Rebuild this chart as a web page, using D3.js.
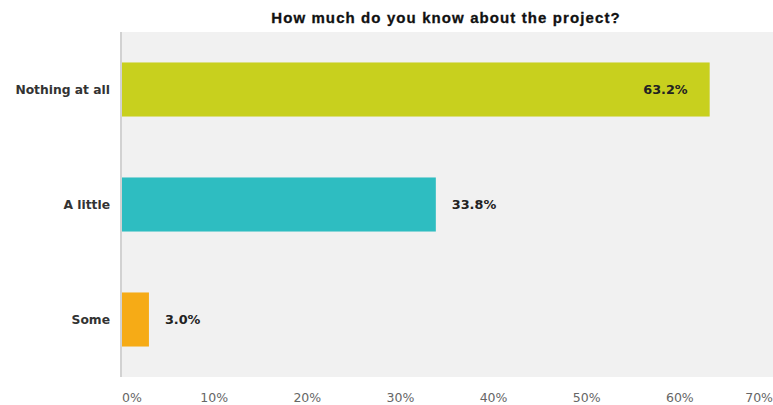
<!DOCTYPE html>
<html>
<head>
<meta charset="utf-8">
<script src="https://cdn.jsdelivr.net/npm/d3@7"></script>
<style>
  html, body { margin: 0; padding: 0; background: #ffffff; }
  svg { display: block; }
</style>
</head>
<body>
<svg id="chart" width="773" height="405"></svg>
<script>
const title = "How much do you know about the project?";
const categories = ["Nothing at all", "A little", "Some"];
const values = [63.2, 33.8, 3.0];
const colors = ["#c8d01e", "#2ebdc1", "#f6ab16"];
const tickValues = [0, 10, 20, 30, 40, 50, 60, 70];
const tickLabels = ["0%", "10%", "20%", "30%", "40%", "50%", "60%", "70%"];

const W = 773, H = 405;
const plot = { left: 121, right: 773, top: 32, bottom: 377 };

const svg = d3.select("#chart");

const x = d3.scaleLinear().domain([0, 70]).range([plot.left, plot.right]);
const y = d3.scaleBand().domain(categories).range([plot.top, plot.bottom]).paddingInner(0.53).paddingOuter(0.265);

// plot background
svg.append("rect")
  .attr("x", plot.left).attr("y", plot.top)
  .attr("width", plot.right - plot.left).attr("height", plot.bottom - plot.top)
  .attr("fill", "#f1f1f1");

// left axis line
svg.append("line")
  .attr("x1", plot.left).attr("x2", plot.left)
  .attr("y1", plot.top).attr("y2", plot.bottom)
  .attr("stroke", "#d2d2d2").attr("stroke-width", 2);

// title
svg.append("text")
  .attr("x", 446).attr("y", 23)
  .attr("text-anchor", "middle")
  .attr("font-family", "Liberation Sans, Arial, sans-serif")
  .attr("font-weight", "bold")
  .attr("font-size", 15)
  .attr("letter-spacing", 1.1)
  .attr("fill", "#111")
  .attr("stroke", "#111").attr("stroke-width", 0.3)
  .text(title);

const data = categories.map((c, i) => ({ c, v: values[i], color: colors[i] }));

// bars
svg.selectAll("rect.bar").data(data).enter().append("rect")
  .attr("class", "bar")
  .attr("x", x(0) + 1)
  .attr("y", d => y(d.c))
  .attr("width", d => x(d.v) - x(0) - 1)
  .attr("height", y.bandwidth())
  .attr("fill", d => d.color);

// category labels
svg.selectAll("text.cat").data(data).enter().append("text")
  .attr("class", "cat")
  .attr("x", 110)
  .attr("y", d => y(d.c) + y.bandwidth() / 2)
  .attr("dy", "0.35em")
  .attr("text-anchor", "end")
  .attr("font-family", "DejaVu Sans, Verdana, sans-serif")
  .attr("font-weight", "bold")
  .attr("font-size", 12.3)
  .attr("fill", "#333")
  .text(d => d.c);

// value labels
svg.selectAll("text.val").data(data).enter().append("text")
  .attr("class", "val")
  .attr("x", d => d.v > 50 ? x(d.v) - 22 : x(d.v) + 16)
  .attr("y", d => y(d.c) + y.bandwidth() / 2)
  .attr("dy", "0.35em")
  .attr("text-anchor", d => d.v > 50 ? "end" : "start")
  .attr("font-family", "DejaVu Sans, Verdana, sans-serif")
  .attr("font-weight", "bold")
  .attr("font-size", 12.8)
  .attr("fill", "#222")
  .text(d => d.v.toFixed(1) + "%");

// x tick labels
svg.selectAll("text.tick").data(tickValues).enter().append("text")
  .attr("class", "tick")
  .attr("x", (d, i) => i === 0 ? x(d) + 1 : x(d))
  .attr("y", 402)
  .attr("text-anchor", (d, i) => i === 0 ? "start" : (i === tickValues.length - 1 ? "end" : "middle"))
  .attr("font-family", "DejaVu Sans, Verdana, sans-serif")
  .attr("font-size", 12.5)
  .attr("fill", "#666")
  .text((d, i) => tickLabels[i]);
</script>
</body>
</html>
